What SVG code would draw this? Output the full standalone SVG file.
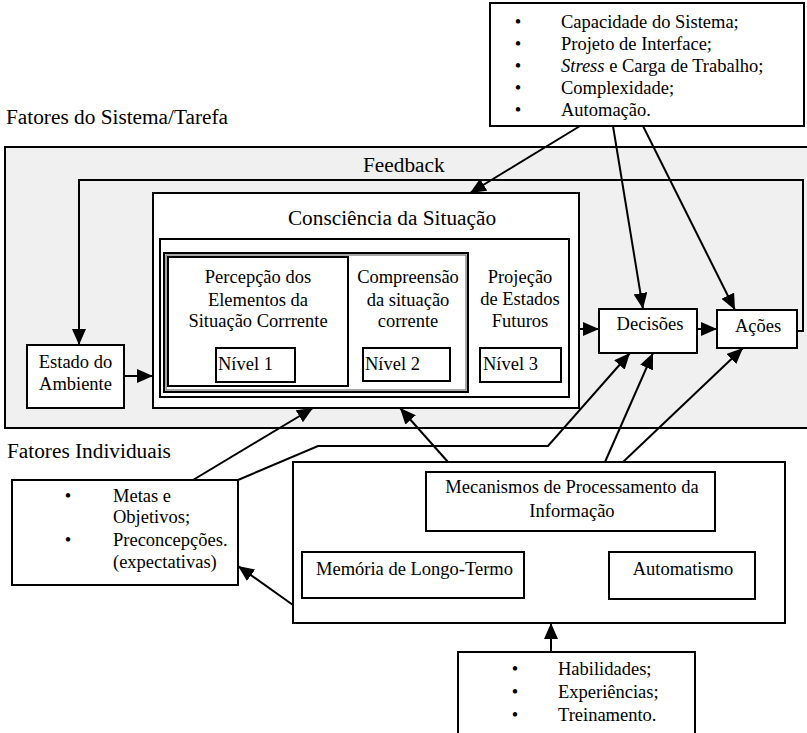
<svg xmlns="http://www.w3.org/2000/svg" width="807" height="733" viewBox="0 0 807 733">
  <defs>
    <marker id="arrow" viewBox="0 0 16 14" refX="16" refY="7" markerWidth="16" markerHeight="14" markerUnits="userSpaceOnUse" orient="auto">
      <path d="M0,0 L16,7 L0,14 Z" fill="#000"/>
    </marker>
    <style>
      text { font-family: "Liberation Serif", "Times New Roman", serif; font-size: 18.5px; fill: #000; }
      .title { font-size: 21.3px; }
      .mid { text-anchor: middle; }
      .box { fill: #fff; stroke: #000; stroke-width: 2; }
      .line { fill: none; stroke: #000; stroke-width: 2; }
      .arr { fill: none; stroke: #000; stroke-width: 2; marker-end: url(#arrow); }
    </style>
  </defs>

  <rect width="807" height="733" fill="#fff"/>

  <!-- system / task factors region -->
  <g id="system-region">
    <rect x="5" y="147" width="810" height="281" fill="#f0f0f0" stroke="#000" stroke-width="2"/>
    <text class="title" x="6" y="124">Fatores do Sistema/Tarefa</text>
    <text class="title" x="363" y="172">Feedback</text>
  </g>

  <g id="system-factors">
    <rect class="box" x="490" y="3" width="314" height="123"/>
    <text class="mid" x="518" y="28">•</text><text x="561" y="28">Capacidade do Sistema;</text>
    <text class="mid" x="518" y="50">•</text><text x="561" y="50">Projeto de Interface;</text>
    <text class="mid" x="518" y="72">•</text><text x="561" y="72"><tspan font-style="italic">Stress</tspan> e Carga de Trabalho;</text>
    <text class="mid" x="518" y="94">•</text><text x="561" y="94">Complexidade;</text>
    <text class="mid" x="518" y="116">•</text><text x="561" y="116">Automação.</text>
  </g>

  <g id="estado-ambiente">
    <rect class="box" x="27" y="345" width="97" height="63"/>
    <text class="mid" x="75.5" y="368">Estado do</text>
    <text class="mid" x="75.5" y="390">Ambiente</text>
  </g>

  <g id="consciencia">
    <rect class="box" x="153" y="193" width="426" height="215"/>
    <text class="title mid" x="392" y="225">Consciência da Situação</text>
    <rect class="box" x="160" y="239" width="409" height="158"/>
    <rect class="box" x="164" y="253" width="304" height="139"/>
    <rect x="166" y="255" width="300" height="135" fill="none" stroke="#888" stroke-width="1.5"/>
  </g>

  <g id="nivel-1">
    <rect class="box" x="168" y="257" width="180" height="129"/>
    <text class="mid" x="258" y="283">Percepção dos</text>
    <text class="mid" x="258" y="306">Elementos da</text>
    <text class="mid" x="258" y="327">Situação Corrrente</text>
    <rect class="box" x="216" y="348" width="79" height="34"/>
    <text x="218" y="370">Nível 1</text>
  </g>

  <g id="nivel-2">
    <text class="mid" x="408" y="283">Compreensão</text>
    <text class="mid" x="408" y="306">da situação</text>
    <text class="mid" x="408" y="327">corrente</text>
    <rect class="box" x="363" y="348" width="87" height="33"/>
    <text x="365" y="370">Nível 2</text>
  </g>

  <g id="nivel-3">
    <text class="mid" x="520" y="283">Projeção</text>
    <text class="mid" x="520" y="305">de Estados</text>
    <text class="mid" x="520" y="327">Futuros</text>
    <rect class="box" x="480" y="348" width="81" height="34"/>
    <text x="483" y="370">Nível 3</text>
  </g>

  <g id="decisoes">
    <rect class="box" x="599" y="309" width="98" height="44"/>
    <text class="mid" x="650" y="330">Decisões</text>
  </g>

  <g id="acoes">
    <rect class="box" x="717" y="310" width="80" height="38"/>
    <text class="mid" x="758" y="332">Ações</text>
  </g>

  <g id="individual-label">
    <text class="title" x="7" y="458">Fatores Individuais</text>
  </g>

  <g id="metas">
    <rect class="box" x="12" y="480" width="226" height="105"/>
    <text class="mid" x="68" y="502">•</text><text x="113" y="502">Metas e</text>
    <text x="113" y="523">Objetivos;</text>
    <text class="mid" x="68" y="546">•</text><text x="113" y="546">Preconcepções.</text>
    <text x="113" y="568">(expectativas)</text>
  </g>

  <g id="mecanismos">
    <rect class="box" x="293" y="462" width="492" height="161"/>
    <rect class="box" x="426" y="472" width="289" height="59"/>
    <text class="mid" x="572" y="493">Mecanismos de Processamento da</text>
    <text class="mid" x="572" y="517">Informação</text>
    <rect class="box" x="302" y="552" width="222" height="46"/>
    <text x="316" y="575">Memória de Longo-Termo</text>
    <rect class="box" x="609" y="552" width="146" height="47"/>
    <text class="mid" x="683" y="575">Automatismo</text>
  </g>

  <g id="habilidades">
    <rect class="box" x="458" y="652" width="237" height="90"/>
    <text class="mid" x="515" y="675">•</text><text x="558" y="675">Habilidades;</text>
    <text class="mid" x="515" y="698">•</text><text x="558" y="698">Experiências;</text>
    <text class="mid" x="515" y="721">•</text><text x="558" y="721">Treinamento.</text>
  </g>

  <g id="connectors">
    <!-- feedback loop -->
    <polyline class="arr" points="797,331 803,331 803,180 79,180 79,345"/>
    <line class="arr" x1="124" y1="376" x2="153" y2="376"/>
    <line class="arr" x1="579" y1="329" x2="599" y2="329"/>
    <line class="arr" x1="697" y1="329" x2="717" y2="329"/>
    <!-- system factors -->
    <line class="arr" x1="580" y1="126" x2="470" y2="193"/>
    <line class="arr" x1="613" y1="126" x2="643" y2="309"/>
    <line class="arr" x1="643" y1="126" x2="735" y2="310"/>
    <!-- goals -->
    <line class="arr" x1="193" y1="480" x2="313" y2="408"/>
    <polyline class="arr" points="238,480 318,446 548,446 630,353"/>
    <!-- processing mechanisms -->
    <line class="arr" x1="448" y1="462" x2="400" y2="408"/>
    <line class="arr" x1="605" y1="462" x2="653" y2="353"/>
    <line class="arr" x1="623" y1="462" x2="743" y2="348"/>
    <line class="arr" x1="293" y1="605" x2="238" y2="566"/>
    <!-- abilities -->
    <line class="arr" x1="551" y1="652" x2="551" y2="623"/>
  </g>
</svg>
